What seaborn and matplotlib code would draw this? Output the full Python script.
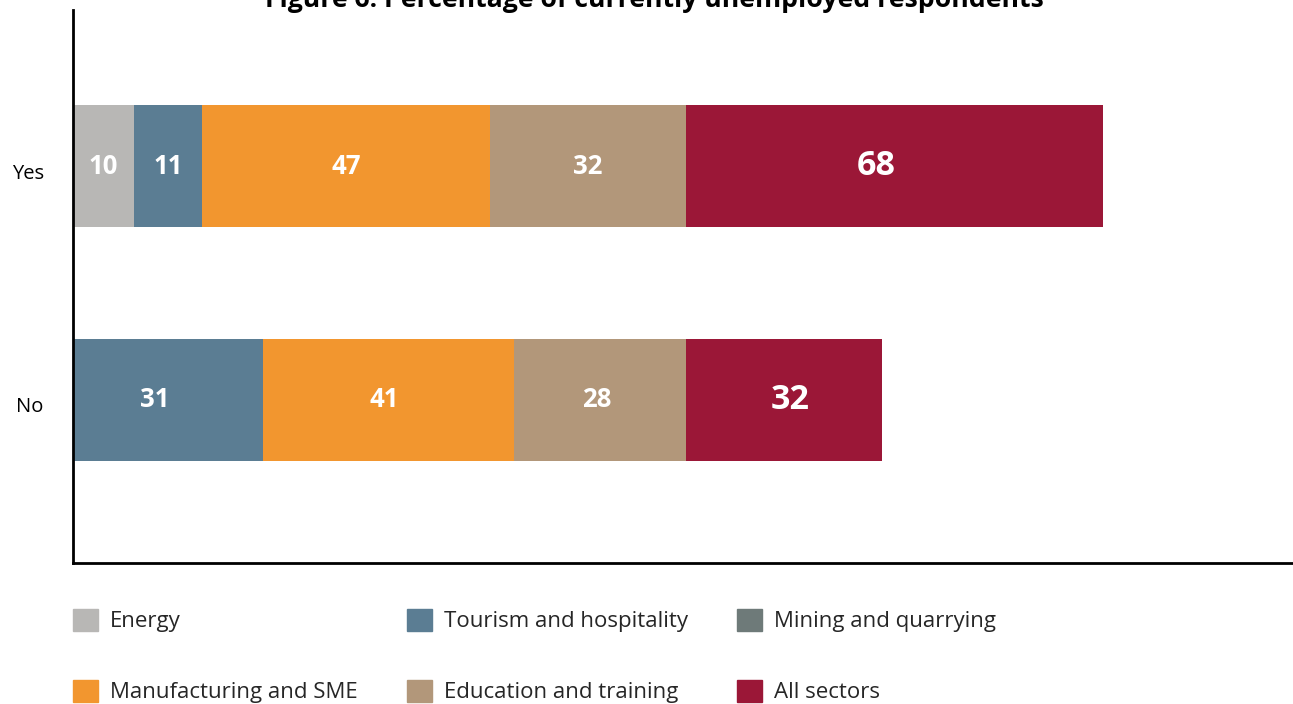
import matplotlib
matplotlib.use("Agg")
import matplotlib.pyplot as plt
import matplotlib.patches as mpatches
import matplotlib.transforms as mtransforms
import seaborn as sns
import pandas as pd
import numpy as np

# Survey responses: share of respondents currently unemployed, by sector
responses = ["Yes", "No"]
sectors = ["Energy", "Tourism and hospitality", "Mining and quarrying",
           "Manufacturing and SME", "Education and training", "All sectors"]
energy = [10, 0]
tourism = [11, 31]
mining = [0, 0]
manufacturing = [47, 41]
education = [32, 28]
all_sectors = [68, 32]

colors = ["#B8B7B5", "#5B7D93", "#6E7A79", "#F2962F", "#B2977A", "#9B1737"]
title = "Figure 6: Percentage of currently unemployed respondents"

sns.set_theme(style="white")
plt.rcParams["font.family"] = ["Open Sans", "DejaVu Sans"]

values = np.array([energy, tourism, mining, manufacturing, education, all_sectors], dtype=float)
cum = np.cumsum(values, axis=0)

# Hand-placed label nudges (pixels), keyed by (sector index, response index)
nudge_px = {(5, 0): -18, (1, 1): -13, (5, 1): 6, (3, 1): -4, (4, 1): -4}

fig = plt.figure(figsize=(12.93, 7.04), dpi=100)
ax = fig.add_axes([73 / 1293, 141 / 704, 1 - 73 / 1293, 553 / 704])

# Stack by overdrawing cumulative totals, longest first
for i in reversed(range(len(sectors))):
    df = pd.DataFrame({"response": responses, "value": cum[i]})
    sns.barplot(data=df, x="value", y="response", orient="h", color=colors[i],
                saturation=1, width=0.52, ax=ax, linewidth=0, errorbar=None)

# Segment labels
for i, name in enumerate(sectors):
    for j in range(len(responses)):
        v = values[i, j]
        if v <= 0:
            continue
        xc = cum[i, j] - v / 2
        big = name == "All sectors"
        off = mtransforms.ScaledTranslation(nudge_px.get((i, j), 0) / 100, 0,
                                            fig.dpi_scale_trans)
        ax.text(xc, j, f"{int(v)}", ha="center", va="center", color="white",
                fontsize=24.5 if big else 18.5, fontweight="bold",
                transform=ax.transData + off)

ax.set_xlim(0, 199)
ax.set_ylim(1.697, -0.667)
ax.set_xlabel("")
ax.set_ylabel("")
ax.set_xticks([])
ax.tick_params(axis="y", length=0, labelsize=14.5, pad=21, colors="black")
shift = mtransforms.ScaledTranslation(0, -5 / 100, fig.dpi_scale_trans)
for lbl in ax.get_yticklabels():
    lbl.set_transform(lbl.get_transform() + shift)
for s in ["top", "right"]:
    ax.spines[s].set_visible(False)
for s in ["left", "bottom"]:
    ax.spines[s].set_color("black")
    ax.spines[s].set_linewidth(2)

fig.text(654 / 1293, 1 - 7 / 704, title, ha="center", va="baseline",
         fontsize=19.2, fontweight="bold", color="black")

# Legend filled row by row (matplotlib fills columns first)
handles = [mpatches.Patch(color=c, label=n) for c, n in zip(colors, sectors)]
order = [0, 3, 1, 4, 2, 5]
fig.legend(handles=[handles[k] for k in order], ncol=3, loc="upper left",
           bbox_to_anchor=(53 / 1293, 1 - 589 / 704), frameon=False,
           fontsize=16, handlelength=1.12, handleheight=1.12, handletextpad=0.55,
           columnspacing=2.2, labelspacing=2.15)

fig.savefig("out.png", dpi=100)
